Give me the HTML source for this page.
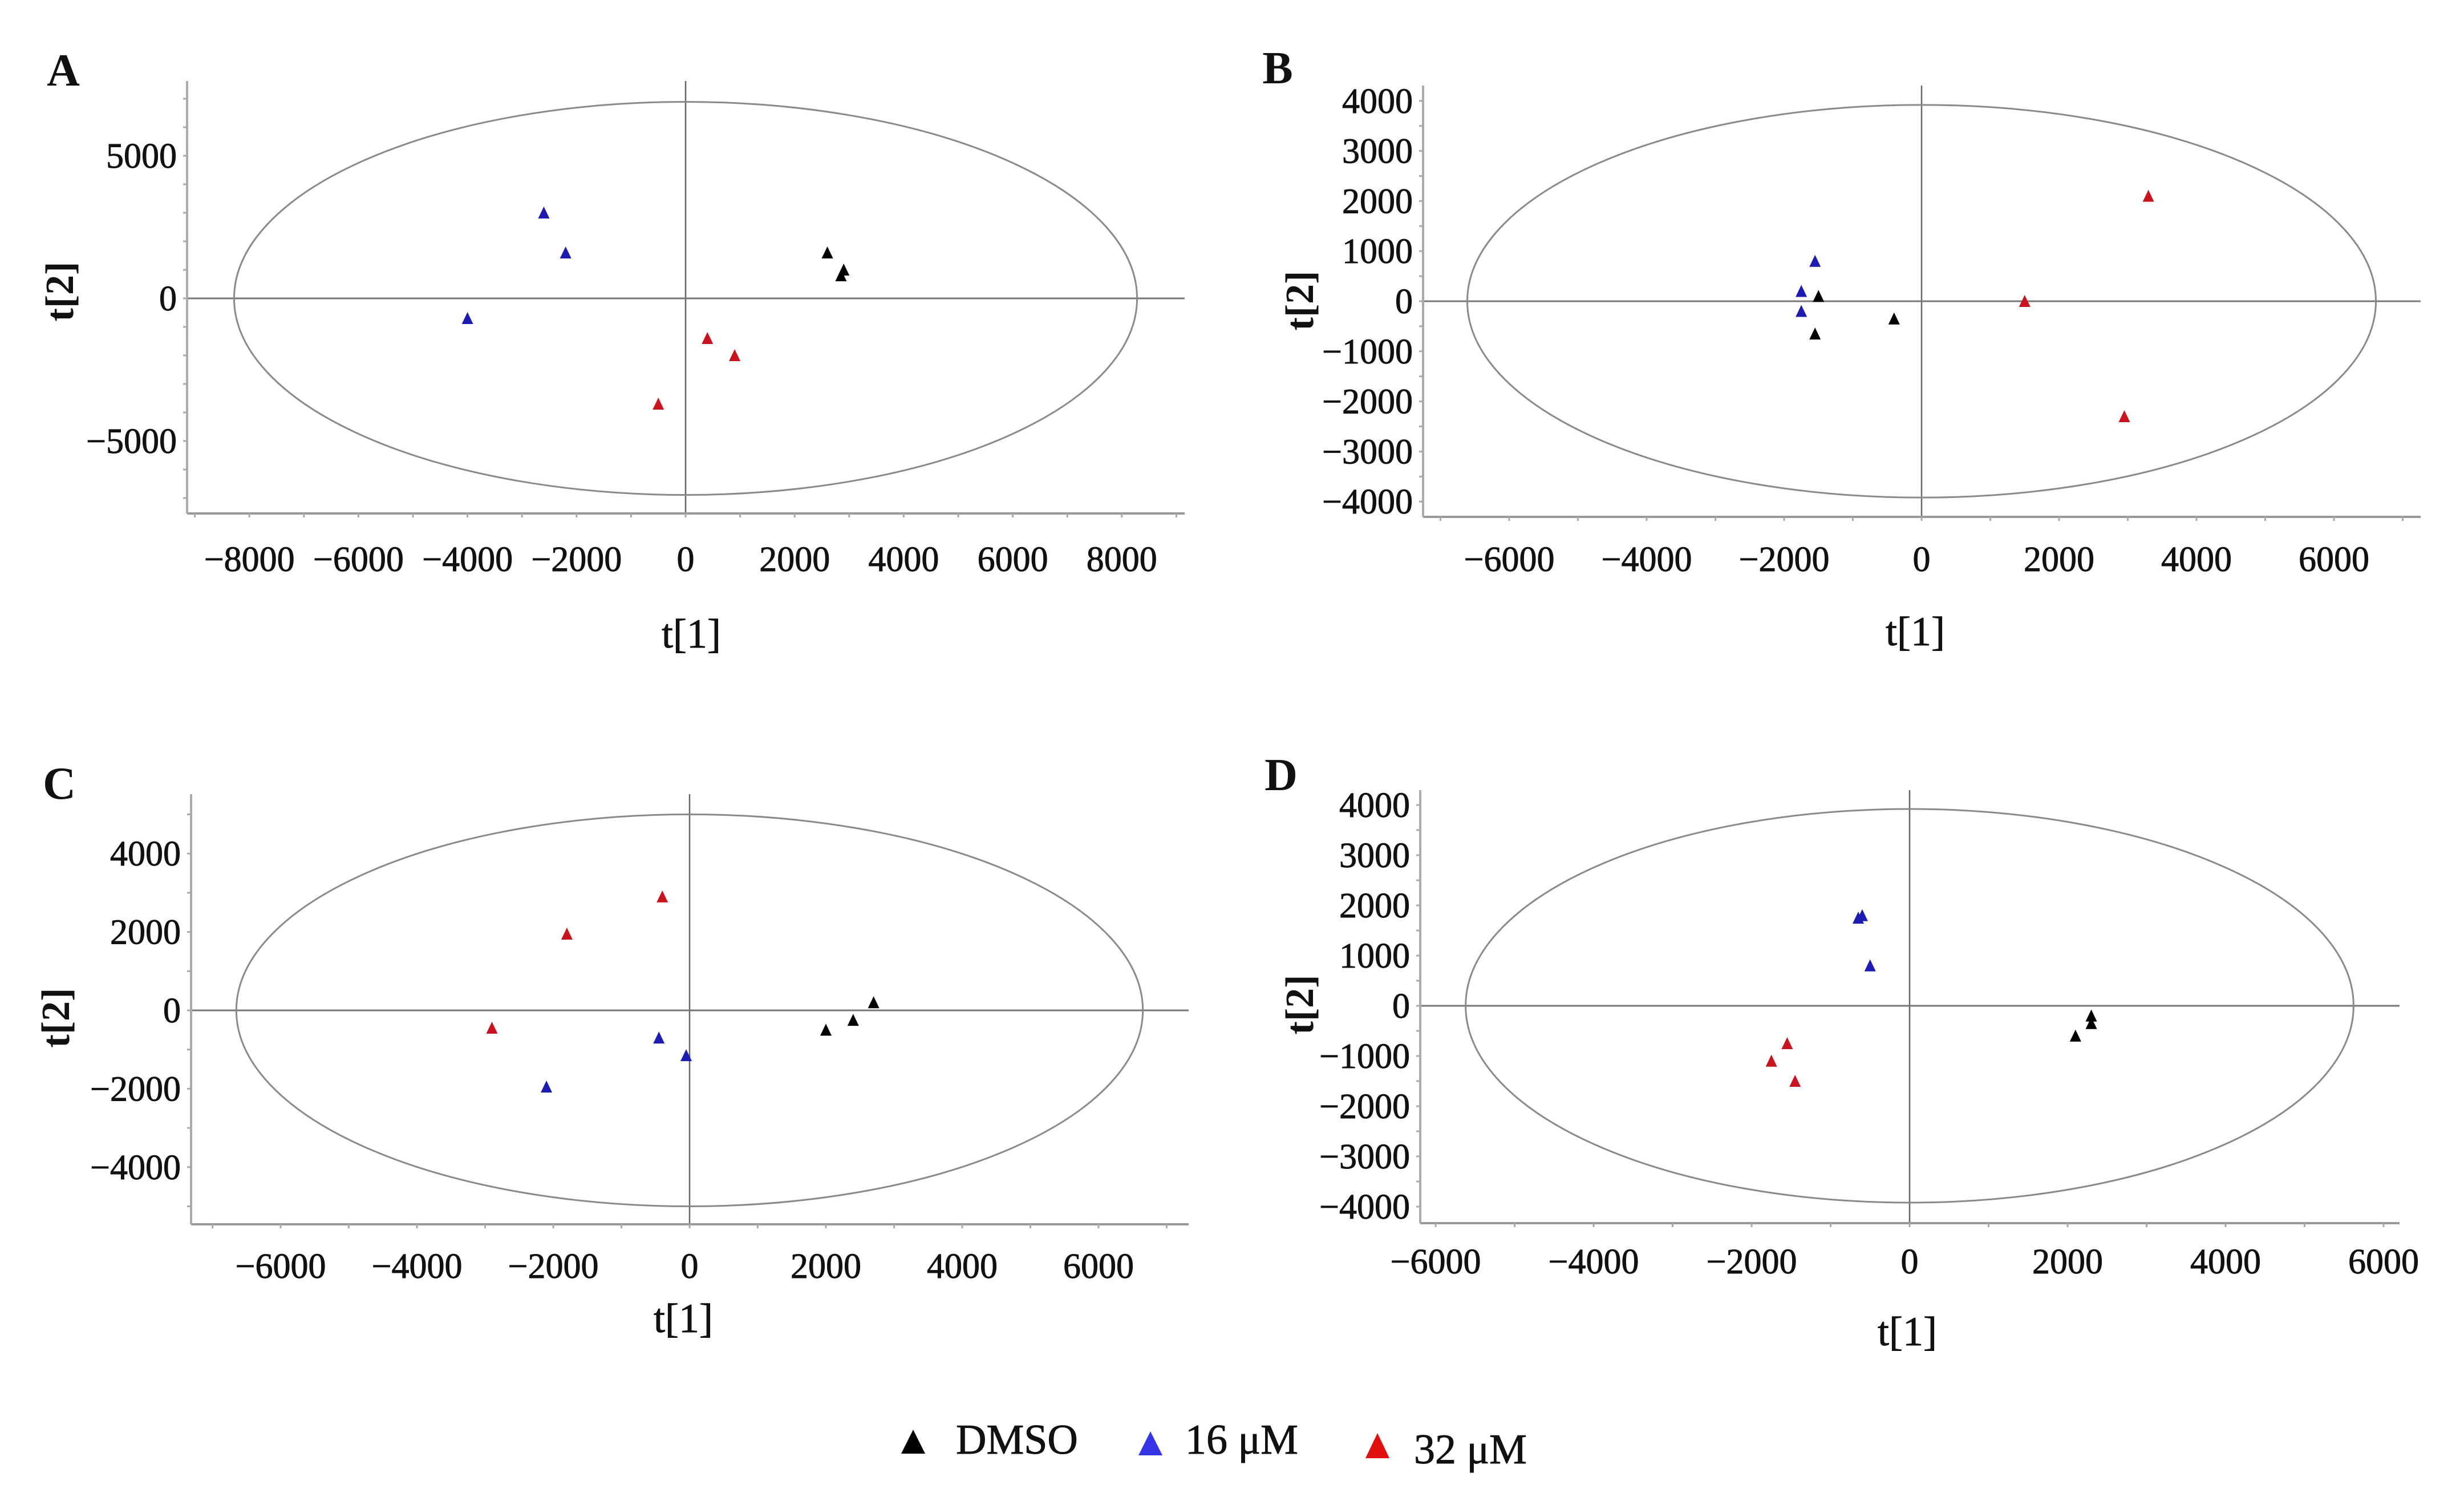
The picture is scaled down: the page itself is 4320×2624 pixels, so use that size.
<!DOCTYPE html>
<html><head><meta charset="utf-8"><style>
html,body{margin:0;padding:0;background:#fff;}
svg{display:block;}
text{font-family:"Liberation Serif",serif;fill:#111;}
.tk{stroke:#111;stroke-width:0.9px;}
</style></head><body>
<svg id="fig" width="4320" height="2624" viewBox="0 0 4320 2624" xmlns="http://www.w3.org/2000/svg">
<g>
  <g>
    <polygon points="1580,2548 1601,2506 1622,2548" fill="#000"/>
    <text x="1676" y="2548" font-size="74" class="tk">DMSO</text>
  </g>
  <g>
    <polygon points="1996,2551 2017,2509 2038,2551" fill="#3535e6"/>
    <text x="2078" y="2548" font-size="74" class="tk">16 μM</text>
  </g>
  <g>
    <polygon points="2394,2556 2415,2512 2436,2556" fill="#e01010"/>
    <text x="2479" y="2565" font-size="74" class="tk">32 μM</text>
  </g>
</g>
</svg>
<script>
// ---- data (t[1], t[2] score values) ----
const A_dmso_t1 = [2600, 2850, 2900];
const A_dmso_t2 = [1600, 800, 1000];
const A_16_t1 = [-2600, -2200, -4000];
const A_16_t2 = [3000, 1600, -700];
const A_32_t1 = [400, 900, -500];
const A_32_t2 = [-1400, -2000, -3700];

const B_dmso_t1 = [-1500, -1550, -400];
const B_dmso_t2 = [100, -650, -350];
const B_16_t1 = [-1550, -1750, -1750];
const B_16_t2 = [800, 200, -200];
const B_32_t1 = [1500, 3300, 2950];
const B_32_t2 = [0, 2100, -2300];

const C_dmso_t1 = [2000, 2400, 2700];
const C_dmso_t2 = [-500, -250, 200];
const C_16_t1 = [-2100, -450, -50];
const C_16_t2 = [-1950, -700, -1150];
const C_32_t1 = [-400, -1800, -2900];
const C_32_t2 = [2900, 1950, -450];

const D_dmso_t1 = [2100, 2300, 2300];
const D_dmso_t2 = [-600, -200, -350];
const D_16_t1 = [-650, -600, -500];
const D_16_t2 = [1750, 1800, 800];
const D_32_t1 = [-1550, -1750, -1450];
const D_32_t2 = [-750, -1100, -1500];

const A_xticks = [-8000, -6000, -4000, -2000, 0, 2000, 4000, 6000, 8000];
const A_yticks = [-5000, 0, 5000];
const B_xticks = [-6000, -4000, -2000, 0, 2000, 4000, 6000];
const B_yticks = [-4000, -3000, -2000, -1000, 0, 1000, 2000, 3000, 4000];
const C_xticks = [-6000, -4000, -2000, 0, 2000, 4000, 6000];
const C_yticks = [-4000, -2000, 0, 2000, 4000];
const D_xticks = [-6000, -4000, -2000, 0, 2000, 4000, 6000];
const D_yticks = [-4000, -3000, -2000, -1000, 0, 1000, 2000, 3000, 4000];

const A_ellipse = [8280, 6890];
const B_ellipse = [6610, 3920];
const C_ellipse = [6650, 5000];
const D_ellipse = [5620, 3920];

// ---- geometry (layout only) ----
const panels = [
 {id:'a', letter:'A', lx:111, ly:150, x0:1202, kx:0.0956, y0:523, ky:0.05, ax:328, top:142, bottom:900, right:2077, minorX:1000, minorY:1000,
  xt:A_xticks, yt:A_yticks, ell:A_ellipse, tlx:980, t1:[1212,1135], t2:[104,511],
  s:[[A_dmso_t1,A_dmso_t2,'#000','dmso'],[A_16_t1,A_16_t2,'#1c1cb0','16um'],[A_32_t1,A_32_t2,'#c8141e','32um']]},
 {id:'b', letter:'B', lx:2240, ly:146, x0:3369, kx:0.1205, y0:528, ky:0.0878, ax:2495, top:150, bottom:906, right:4244, minorX:1000, minorY:500,
  xt:B_xticks, yt:B_yticks, ell:B_ellipse, tlx:980, t1:[3358,1131], t2:[2278,527],
  s:[[B_dmso_t1,B_dmso_t2,'#000','dmso'],[B_16_t1,B_16_t2,'#1c1cb0','16um'],[B_32_t1,B_32_t2,'#c8141e','32um']]},
 {id:'c', letter:'C', lx:104, ly:1400, x0:1209, kx:0.1195, y0:1771, ky:0.0687, ax:335, top:1392, bottom:2146, right:2084, minorX:1000, minorY:1000,
  xt:C_xticks, yt:C_yticks, ell:C_ellipse, tlx:2219, t1:[1198,2335], t2:[97,1784],
  s:[[C_dmso_t1,C_dmso_t2,'#000','dmso'],[C_16_t1,C_16_t2,'#1c1cb0','16um'],[C_32_t1,C_32_t2,'#c8141e','32um']]},
 {id:'d', letter:'D', lx:2246, ly:1385, x0:3348, kx:0.1385, y0:1763, ky:0.088, ax:2490, top:1385, bottom:2144, right:4207, minorX:1000, minorY:500,
  xt:D_xticks, yt:D_yticks, ell:D_ellipse, tlx:2211, t1:[3344,2358], t2:[2278,1761],
  s:[[D_dmso_t1,D_dmso_t2,'#000','dmso'],[D_16_t1,D_16_t2,'#1c1cb0','16um'],[D_32_t1,D_32_t2,'#c8141e','32um']]}
];

const NS = 'http://www.w3.org/2000/svg';
const svg = document.getElementById('fig');
function mk(tag, attrs, parent){
  const e = document.createElementNS(NS, tag);
  for (const k in attrs) e.setAttribute(k, attrs[k]);
  parent.appendChild(e);
  return e;
}
function fmt(v){ return v < 0 ? '\u2212' + Math.abs(v) : String(v); }

panels.forEach(p => {
  const sx = v => p.x0 + v * p.kx;
  const sy = v => p.y0 - v * p.ky;
  const g = mk('g', {}, svg);
  
  

  const lt = mk('text', {x:p.lx, y:p.ly, 'font-size':80, 'font-weight':'bold', 'text-anchor':'middle'}, g);
  lt.textContent = p.letter;
  
  

  const zv = mk('line', {x1:sx(0), x2:sx(0), y1:p.top, y2:p.bottom, stroke:'#666', 'stroke-width':2.5}, g);
  
  
  const zh = mk('line', {x1:p.ax, x2:p.right, y1:sy(0), y2:sy(0), stroke:'#777', 'stroke-width':3}, g);
  
  

  const el = mk('ellipse', {cx:sx(0), cy:sy(0), rx:p.ell[0]*p.kx, ry:p.ell[1]*p.ky, fill:'none', stroke:'#8a8a8a', 'stroke-width':3}, g);
  
  

  const xa = mk('line', {x1:p.ax, x2:p.right, y1:p.bottom, y2:p.bottom, stroke:'#999', 'stroke-width':4}, g);
  
  
  const ya = mk('line', {x1:p.ax, x2:p.ax, y1:p.top, y2:p.bottom, stroke:'#aaa', 'stroke-width':4}, g);
  
  

  for (let v = Math.ceil(((p.ax - p.x0)/p.kx)/p.minorX)*p.minorX; sx(v) <= p.right; v += p.minorX) {
    mk('line', {x1:sx(v), x2:sx(v), y1:p.bottom, y2:p.bottom+7, stroke:'#aaa', 'stroke-width':3}, g);
  }
  for (let v = Math.ceil(((p.y0 - p.bottom)/p.ky)/p.minorY)*p.minorY; sy(v) >= p.top; v += p.minorY) {
    mk('line', {x1:p.ax-7, x2:p.ax, y1:sy(v), y2:sy(v), stroke:'#aaa', 'stroke-width':3}, g);
  }

  p.xt.forEach(v => {
    const t = mk('text', {x:sx(v), y:p.tlx + 21, 'font-size':62, 'text-anchor':'middle', class:'tk'}, g);
    t.textContent = fmt(v);
    
    
  });
  p.yt.forEach(v => {
    const t = mk('text', {x:p.ax - 18, y:sy(v) + 21, 'font-size':62, 'text-anchor':'end', class:'tk'}, g);
    t.textContent = fmt(v);
    
    
  });

  const xt = mk('text', {x:p.t1[0], y:p.t1[1], 'font-size':72, 'text-anchor':'middle', class:'tk'}, g);
  xt.textContent = 't[1]';
  
  
  const ytl = mk('text', {x:0, y:0, 'font-size':70, 'font-weight':'bold', 'text-anchor':'middle', transform:'translate(' + (p.t2[0]+24) + ',' + p.t2[1] + ') rotate(-90)'}, g);
  ytl.textContent = 't[2]';
  
  

  p.s.forEach(sr => {
    const [xs, ys, col, nm] = sr;
    xs.forEach((xv, i) => {
      const cx = sx(xv), cy = sy(ys[i]);
      const tr = mk('polygon', {points:(cx-10)+','+(cy+10)+' '+cx+','+(cy-11)+' '+(cx+10)+','+(cy+10), fill:col}, g);
      
      
    });
  });
});
</script>
</body></html>
